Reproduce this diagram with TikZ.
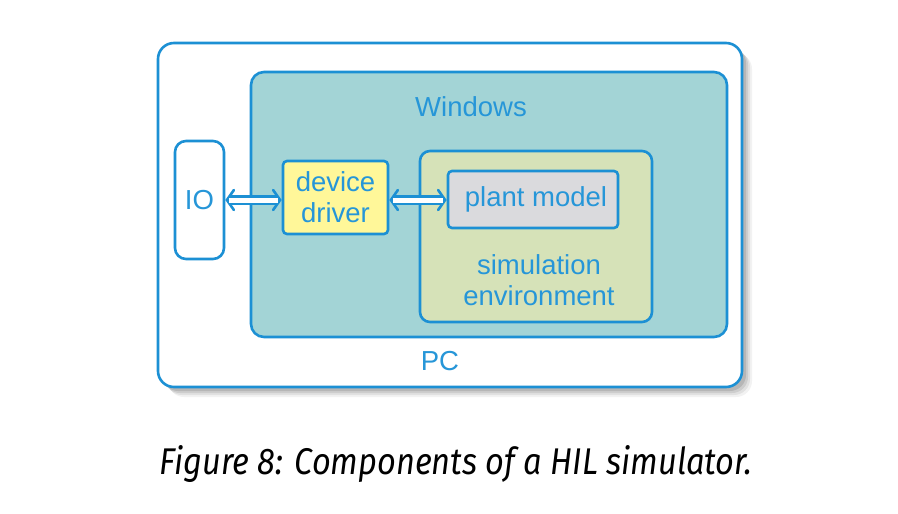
\documentclass[tikz,border=0pt]{standalone}
\usepackage{fontspec}
\setmainfont{Liberation Sans}
\newfontfamily\capfont{Fira Sans}
\usetikzlibrary{arrows.meta}
\definecolor{bord}{RGB}{28,144,212}
\definecolor{txt}{RGB}{38,150,216}
\definecolor{winfill}{RGB}{163,212,214}
\definecolor{simfill}{RGB}{214,226,184}
\definecolor{ddfill}{RGB}{255,247,153}
\definecolor{pmfill}{RGB}{218,218,221}
\tikzset{
  box/.style={draw=bord, line width=2.6pt},
  lbl/.style={text=txt, font=\fontsize{27.5}{31}\selectfont, inner sep=0pt, align=center},
  arrowtips/.style={draw=bord, line width=2.6pt, {Straight Barb[length=7pt,width=20pt,line cap=round]}-{Straight Barb[length=7pt,width=20pt,line cap=round]}},
  arrowshaft/.style={draw=bord, line width=2.2pt, double=white, double distance=5pt, shorten <=3.5pt, shorten >=3.5pt},
}
\begin{document}
\begin{tikzpicture}[x=1pt,y=-1pt]
\useasboundingbox (0,0) rectangle (898,514);
% shadow
\foreach \o/\a in {10/0.05,8/0.07,6/0.09,4/0.11}{
  \fill[black, opacity=\a, rounded corners=16pt] (158+\o,43+\o) rectangle (742+\o,387+\o);
}
% PC
\draw[box, fill=white, rounded corners=16pt] (158,43) rectangle (742,387);
\node[lbl] (pc) at (440,361) {PC};
% Windows
\draw[box, fill=winfill, rounded corners=13pt] (251,72) rectangle (727,337);
\node[lbl] (win) at (471,107) {Windows};
% IO
\node[box, fill=white, rounded corners=11pt, minimum width=49pt, minimum height=118pt, inner sep=0pt, text=txt, font=\fontsize{27.5}{31}\selectfont] (io) at (199.5,200) {IO};
% device driver
\node[box, fill=ddfill, rounded corners=4pt, minimum width=105pt, minimum height=73pt, inner sep=0pt, lbl] (dd) at (335.5,197.5) {device\\driver};
% simulation environment
\draw[box, fill=simfill, rounded corners=10pt] (420,151) rectangle (652,322);
\node[lbl] (simtxt) at (539,280) {simulation\\environment};
% plant model
\node[box, fill=pmfill, rounded corners=4pt, minimum width=170pt, minimum height=57pt, inner sep=0pt] (pm) at (533,199.5) {};
\node[lbl] (pmtxt) at (536,199.5) {plant model};
% arrows
\draw[arrowtips] (io.east |- 0,200) -- (dd.west |- 0,200);
\draw[arrowshaft] (io.east |- 0,200) -- (dd.west |- 0,200);
\draw[arrowtips] (dd.east |- 0,200) -- (pm.west |- 0,200);
\draw[arrowshaft] (dd.east |- 0,200) -- (pm.west |- 0,200);
% caption
\node[anchor=base, inner sep=0pt] (cap) at (456,474) {\resizebox{592pt}{29pt}{\capfont\itshape Figure 8: Components of a HIL simulator.}};
\end{tikzpicture}
\end{document}
